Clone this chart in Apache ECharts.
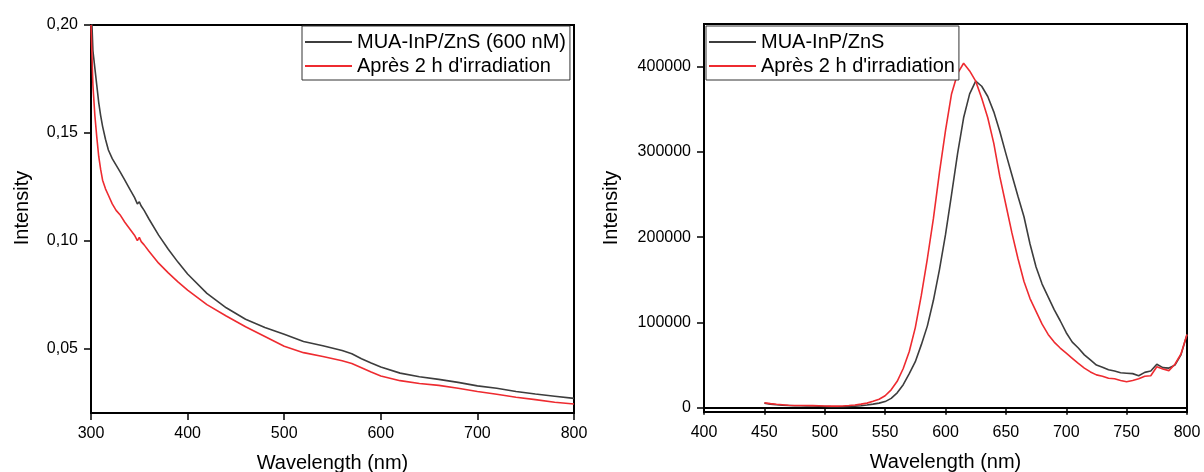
<!DOCTYPE html>
<html>
<head>
<meta charset="utf-8">
<script src="https://cdn.jsdelivr.net/npm/echarts@6/dist/echarts.min.js"></script>
<style>
html,body{margin:0;padding:0;background:#fff;}
#chart{width:1204px;height:472px;}
</style>
</head>
<body>
<div id="chart"></div>
<script>
// ---- Left panel: absorbance-like spectrum ----
const absWavelengths = [300,302,304,306,308,310,312,315,318,322,326,330,335,340,345,348,350,352,355,360,370,380,390,400,420,440,460,480,500,520,540,560,570,580,590,600,620,640,660,680,700,720,740,760,780,800];
const absMUA = [0.212,0.188,0.180,0.172,0.164,0.158,0.153,0.147,0.142,0.138,0.135,0.132,0.128,0.124,0.120,0.117,0.118,0.116,0.114,0.110,0.1025,0.096,0.090,0.0845,0.0755,0.0688,0.0635,0.0597,0.0565,0.0532,0.0512,0.0490,0.0475,0.0452,0.0432,0.0413,0.0385,0.0368,0.0356,0.0342,0.0326,0.0315,0.0300,0.0288,0.0278,0.0268];
const absIrr = [0.200,0.172,0.158,0.148,0.139,0.133,0.128,0.124,0.121,0.117,0.114,0.112,0.1085,0.1055,0.1025,0.100,0.1015,0.0995,0.098,0.0950,0.0895,0.0850,0.0808,0.0770,0.0703,0.0650,0.0600,0.0555,0.0510,0.0480,0.0462,0.0442,0.0430,0.0410,0.0390,0.0372,0.0350,0.0337,0.0328,0.0315,0.0300,0.0287,0.0273,0.0262,0.0250,0.0242];
const leftYTicks = [0.05,0.10,0.15,0.20];
const leftNames = ['MUA-InP/ZnS (600 nM)', "Après 2 h d'irradiation"];

// ---- Right panel: emission spectrum ----
const emWavelengths = [450,455,460,465,470,475,480,485,490,495,500,505,510,515,520,525,530,535,540,545,550,555,560,565,570,575,580,585,590,595,600,605,610,615,620,625,630,635,640,645,650,655,660,665,670,675,680,685,690,695,700,705,710,715,720,725,730,735,740,745,750,755,760,765,770,775,780,785,790,795,800];
const emMUA = [5200,4200,3500,3000,2700,2400,2300,2200,2000,1800,1500,1300,1200,1300,1500,1900,2400,3200,4200,5400,7200,11000,17500,27000,40000,54000,74000,96000,126000,162000,203000,250000,298000,340000,368000,383000,377000,365000,347000,324000,298000,273000,248000,224000,192000,165000,145000,130000,115000,102000,88000,77000,70000,62000,56000,50000,47500,44500,43000,41000,40500,40000,37500,41500,43000,51000,47000,46500,50000,62000,86000];
const emIrr = [5800,4800,4000,3500,3000,2700,2700,2600,2500,2300,2000,1900,1900,2100,2600,3300,4200,5400,7500,10000,14000,21000,31000,46000,66000,94000,132000,175000,222000,276000,325000,368000,392000,404000,395000,383000,363000,340000,310000,271000,238000,205000,175000,148000,128000,113000,98000,86000,77000,70000,64000,58000,52000,46500,42000,38500,37000,34500,34000,32000,30500,32000,34000,37000,37500,48000,45500,43500,51000,63000,86000];
const rightYTicks = [0,100000,200000,300000,400000];
const rightNames = ['MUA-InP/ZnS', "Après 2 h d'irradiation"];

const FONT = "'Liberation Sans', Arial, sans-serif";
const COL_DARK = '#3d3d3d';
const COL_RED = '#ee2b30';

function pairs(xs, ys){ return xs.map((x,i)=>[x, ys[i]]); }

function xAxisCfg(gi, min, max, interval){
  return {
    type:'value', gridIndex:gi, min:min, max:max, interval:interval,
    name:'Wavelength (nm)', nameLocation:'middle', nameGap:40,
    nameTextStyle:{fontFamily:FONT, fontSize:20, color:'#000'},
    axisLine:{show:true, lineStyle:{color:'#000', width:2}},
    axisTick:{show:true, length:7, lineStyle:{color:'#000', width:1.5}},
    axisLabel:{fontFamily:FONT, fontSize:16, color:'#000', margin:13},
    splitLine:{show:false}
  };
}
function yAxisCfg(gi, min, max, ticks, fmt){
  return {
    type:'value', gridIndex:gi, min:min, max:max,
    axisLine:{show:true, lineStyle:{color:'#000', width:2}},
    axisTick:{show:true, length:7, lineStyle:{color:'#000', width:1.5}, customValues:ticks},
    axisLabel:{fontFamily:FONT, fontSize:16, color:'#000', margin:13, customValues:ticks, formatter:fmt},
    splitLine:{show:false}
  };
}
function lineSeries(name, xi, yi, data, color){
  return {
    type:'line', name:name, xAxisIndex:xi, yAxisIndex:yi, data:data,
    showSymbol:false, symbol:'none', smooth:false, clip:true,
    lineStyle:{color:color, width:1.6}, itemStyle:{color:color}
  };
}
function legendCfg(left, names){
  return {
    orient:'vertical', left:left, top:26, data:names,
    icon:'rect', itemWidth:47, itemHeight:2, itemGap:4,
    padding:[6,4,4,3],
    borderColor:'#333', borderWidth:1, backgroundColor:'#fff',
    textStyle:{fontFamily:FONT, fontSize:20, color:'#000', lineHeight:20},
    selectedMode:false
  };
}

const chart = echarts.init(document.getElementById('chart'), null, {renderer:'canvas'});
chart.setOption({
  animation:false,
  backgroundColor:'#fff',
  grid:[
    {left:91, top:25, width:483, height:388, show:true, borderColor:'#000', borderWidth:2, backgroundColor:'transparent', containLabel:false, outerBoundsMode:'none'},
    {left:704, top:24, width:483, height:388, show:true, borderColor:'#000', borderWidth:2, backgroundColor:'transparent', containLabel:false, outerBoundsMode:'none'}
  ],
  xAxis:[ xAxisCfg(0,300,800,100), xAxisCfg(1,400,800,50) ],
  yAxis:[
    yAxisCfg(0,0.02,0.20,leftYTicks, v=>v.toFixed(2).replace('.',',')),
    yAxisCfg(1,-5000,450000,rightYTicks, v=>String(Math.round(v)))
  ],
  legend:[ legendCfg(302,leftNames), legendCfg(706,rightNames) ],
  graphic:[
    {type:'text', x:22, y:208, rotation:Math.PI/2,
      style:{text:'Intensity', fontFamily:FONT, fontSize:20, fill:'#000', align:'center', verticalAlign:'middle'}},
    {type:'text', x:611, y:208, rotation:Math.PI/2,
      style:{text:'Intensity', fontFamily:FONT, fontSize:20, fill:'#000', align:'center', verticalAlign:'middle'}}
  ],
  series:[
    lineSeries(leftNames[0],0,0,pairs(absWavelengths,absMUA),COL_DARK),
    lineSeries(leftNames[1],0,0,pairs(absWavelengths,absIrr),COL_RED),
    lineSeries(rightNames[0],1,1,pairs(emWavelengths,emMUA),COL_DARK),
    lineSeries(rightNames[1],1,1,pairs(emWavelengths,emIrr),COL_RED)
  ]
});
</script>
</body>
</html>
